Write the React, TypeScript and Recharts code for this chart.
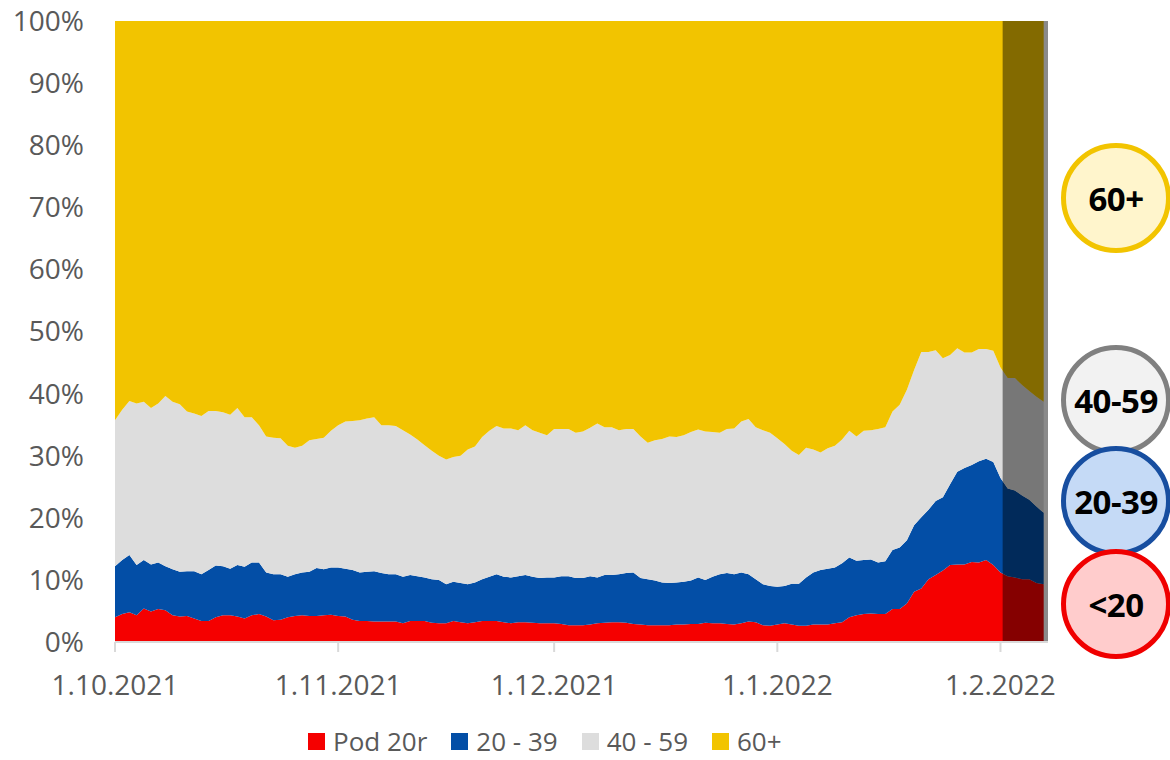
import { AreaChart, Area, XAxis, YAxis, ReferenceArea } from 'recharts';

// daily shares (%) from 1.10.2021 to 7.2.2022
const pod20 = [
  4.0, 4.5, 4.8, 4.3, 5.4, 4.9, 5.3, 5.1, 4.3, 4.1, 4.2, 3.8, 3.4, 3.4, 4.0, 4.3, 4.3, 4.1, 3.8, 4.3,
  4.5, 4.1, 3.5, 3.6, 4.0, 4.2, 4.3, 4.2, 4.2, 4.3, 4.4, 4.2, 4.1, 3.6, 3.4, 3.4, 3.3, 3.3, 3.3, 3.3,
  3.0, 3.4, 3.4, 3.4, 3.1, 3.0, 3.0, 3.4, 3.2, 3.0, 3.2, 3.4, 3.4, 3.4, 3.2, 3.0, 3.2, 3.2, 3.1, 3.0,
  3.0, 3.0, 2.9, 2.7, 2.7, 2.7, 2.8, 3.0, 3.1, 3.2, 3.2, 3.1, 2.9, 2.8, 2.7, 2.7, 2.7, 2.7, 2.8, 2.8,
  2.9, 2.9, 3.1, 3.0, 3.0, 2.9, 2.8, 3.0, 3.3, 3.2, 2.7, 2.6, 2.8, 3.0, 2.8, 2.6, 2.6, 2.8, 2.8, 2.8,
  3.0, 3.2, 4.0, 4.3, 4.5, 4.6, 4.5, 4.5, 5.3, 5.3, 6.2, 8.1, 8.6, 10.1, 10.8, 11.5, 12.4, 12.5, 12.5, 12.9,
  12.8, 13.2, 12.4, 11.2, 10.6, 10.4, 10.1, 10.1, 9.5, 9.3,
];
const age2039 = [
  8.2, 8.7, 9.2, 8.1, 7.8, 7.6, 7.5, 7.1, 7.4, 7.2, 7.2, 7.6, 7.5, 8.2, 8.3, 7.9, 7.5, 8.3, 8.3, 8.5,
  8.3, 7.1, 7.4, 7.3, 6.5, 6.7, 6.9, 7.1, 7.7, 7.4, 7.6, 7.8, 7.7, 8.0, 7.8, 7.9, 8.1, 7.8, 7.6, 7.6,
  7.5, 7.4, 7.2, 7.0, 7.0, 7.0, 6.3, 6.3, 6.3, 6.3, 6.4, 6.7, 7.1, 7.5, 7.3, 7.4, 7.4, 7.6, 7.4, 7.3,
  7.4, 7.4, 7.7, 7.9, 7.6, 7.6, 7.8, 7.4, 7.7, 7.6, 7.7, 8.0, 8.3, 7.5, 7.4, 7.2, 6.9, 6.8, 6.8, 6.9,
  7.0, 7.5, 6.9, 7.5, 7.9, 8.2, 8.1, 8.2, 7.6, 6.9, 6.6, 6.4, 6.1, 6.0, 6.6, 6.8, 7.8, 8.4, 8.8, 9.0,
  9.0, 9.5, 9.6, 8.8, 8.7, 8.7, 8.3, 8.5, 9.5, 9.9, 10.2, 10.7, 11.5, 11.2, 11.9, 11.8, 13.0, 14.9, 15.5, 15.6,
  16.3, 16.3, 16.6, 15.2, 14.1, 14.0, 13.5, 12.8, 12.3, 11.5,
];
const age4059 = [
  23.5, 24.2, 24.8, 26.0, 25.5, 25.2, 25.6, 27.4, 27.0, 27.0, 25.7, 25.4, 25.5, 25.6, 24.9, 24.8, 24.8, 25.3, 24.1, 23.4,
  22.1, 21.9, 22.0, 21.9, 21.1, 20.4, 20.4, 21.2, 20.8, 21.2, 22.0, 22.9, 23.7, 24.0, 24.5, 24.7, 24.8, 23.8, 24.0, 23.9,
  23.6, 22.6, 22.0, 21.3, 20.7, 20.0, 20.1, 20.1, 20.5, 21.7, 21.9, 22.9, 23.5, 23.9, 23.9, 24.0, 23.5, 24.1, 23.6, 23.4,
  22.9, 23.9, 23.7, 23.7, 23.4, 23.6, 23.9, 24.8, 23.8, 23.8, 23.2, 23.2, 23.1, 22.8, 22.0, 22.6, 23.1, 23.6, 23.4, 23.6,
  23.9, 23.8, 23.9, 23.3, 22.8, 23.2, 23.5, 24.3, 25.0, 24.5, 24.8, 24.7, 23.9, 22.9, 21.4, 20.7, 20.9, 19.8, 18.9, 19.4,
  19.6, 19.9, 20.4, 20.0, 20.8, 20.8, 21.5, 21.6, 22.3, 23.0, 24.2, 25.0, 26.6, 25.4, 24.3, 22.4, 20.8, 19.9, 18.6, 18.1,
  18.1, 17.7, 17.9, 17.8, 17.8, 18.1, 17.8, 17.5, 17.7, 17.9,
];
const age60 = [
  64.3, 62.6, 61.2, 61.6, 61.3, 62.3, 61.6, 60.4, 61.3, 61.7, 62.9, 63.2, 63.6, 62.8, 62.8, 63.0, 63.4, 62.3, 63.8, 63.8,
  65.1, 66.9, 67.1, 67.2, 68.4, 68.7, 68.4, 67.5, 67.3, 67.1, 66.0, 65.1, 64.5, 64.4, 64.3, 64.0, 63.8, 65.1, 65.1, 65.2,
  65.9, 66.6, 67.4, 68.3, 69.2, 70.0, 70.6, 70.2, 70.0, 69.0, 68.5, 67.0, 66.0, 65.2, 65.6, 65.6, 65.9, 65.1, 65.9, 66.3,
  66.7, 65.7, 65.7, 65.7, 66.3, 66.1, 65.5, 64.8, 65.4, 65.4, 65.9, 65.7, 65.7, 66.9, 67.9, 67.5, 67.3, 66.9, 67.0, 66.7,
  66.2, 65.8, 66.1, 66.2, 66.3, 65.7, 65.6, 64.5, 64.1, 65.4, 65.9, 66.3, 67.2, 68.1, 69.2, 69.9, 68.7, 69.0, 69.5, 68.8,
  68.4, 67.4, 66.0, 66.9, 66.0, 65.9, 65.7, 65.4, 62.9, 61.8, 59.4, 56.2, 53.3, 53.3, 53.0, 54.3, 53.8, 52.7, 53.4, 53.4,
  52.8, 52.8, 53.1, 55.8, 57.5, 57.5, 58.6, 59.6, 60.5, 61.3,
];

const xTickDays = [0, 31, 61, 92, 123];
const xTickLabels = ['1.10.2021', '1.11.2021', '1.12.2021', '1.1.2022', '1.2.2022'];
const yTicks = [0, 10, 20, 30, 40, 50, 60, 70, 80, 90, 100];

const seriesNames = ['Pod 20r', '20 - 39', '40 - 59', '60+'];
const seriesColors = ['#f50000', '#034ea6', '#dddddd', '#f2c400'];

// days after 1.2.2022 are shaded (incomplete data)
const shadeFrom = 123.3;
const shadeTo = 129.6;

const data = pod20.map((v, i) => ({
  day: i,
  pod20: v,
  a2039: age2039[i],
  a4059: age4059[i],
  a60: age60[i],
}));

const keys = ['pod20', 'a2039', 'a4059', 'a60'];

const badges = [
  { label: '60+', top: 143, fill: '#fff5cc', stroke: '#f2c400' },
  { label: '40-59', top: 345, fill: '#f2f2f2', stroke: '#808080' },
  { label: '20-39', top: 446, fill: '#c5daf6', stroke: '#174ea0' },
  { label: '<20', top: 549, fill: '#ffcccc', stroke: '#f00000' },
];

const font = '"Open Sans", sans-serif';

export default function App() {
  return (
    <div style={{ position: 'absolute', left: 0, top: 0, width: 1170, height: 760, fontFamily: font, overflow: 'hidden' }}>
      <AreaChart
        width={1170}
        height={760}
        data={data}
        margin={{ top: 21, right: 122, bottom: 60, left: 0 }}
      >
        <XAxis
          dataKey="day"
          type="number"
          domain={[0, shadeTo]}
          ticks={xTickDays}
          tickFormatter={(d) => xTickLabels[xTickDays.indexOf(d)]}
          height={58}
          tickSize={10}
          tickMargin={23}
          axisLine={{ stroke: '#d9d9d9', strokeWidth: 2 }}
          tickLine={{ stroke: '#d9d9d9', strokeWidth: 2 }}
          tick={{ fill: '#595959', fontSize: 28, fontFamily: font }}
          interval={0}
        />
        <YAxis
          domain={[0, 100]}
          ticks={yTicks}
          width={115}
          tickFormatter={(v) => `${v}%`}
          axisLine={false}
          tickLine={false}
          tickMargin={25}
          tick={{ fill: '#595959', fontSize: 28, fontFamily: font }}
          interval={0}
        />
        {keys.map((k, i) => (
          <Area
            key={k}
            type="linear"
            dataKey={k}
            stackId="a"
            stroke="none"
            fill={seriesColors[i]}
            fillOpacity={1}
            isAnimationActive={false}
          />
        ))}
        <ReferenceArea
          x1={shadeFrom}
          x2={shadeTo}
          y1={0}
          y2={100}
          fill="#000000"
          fillOpacity={0.46}
          stroke="none"
          ifOverflow="visible"
        />
      </AreaChart>

      {/* legend */}
      <div
        style={{
          position: 'absolute',
          left: 308,
          top: 723,
          height: 36,
          display: 'flex',
          alignItems: 'center',
          gap: 24,
          fontSize: 26,
          color: '#595959',
          whiteSpace: 'nowrap',
        }}
      >
        {seriesNames.map((name, i) => (
          <div key={name} style={{ display: 'flex', alignItems: 'center', gap: 8 }}>
            <span style={{ width: 17, height: 17, background: seriesColors[i], display: 'inline-block' }} />
            <span>{name}</span>
          </div>
        ))}
      </div>

      {/* age group badges */}
      {badges.map((b) => (
        <div
          key={b.label}
          style={{
            position: 'absolute',
            left: 1061,
            top: b.top,
            width: 100,
            height: 100,
            borderRadius: '50%',
            background: b.fill,
            border: `5px solid ${b.stroke}`,
            display: 'flex',
            alignItems: 'center',
            justifyContent: 'center',
            fontWeight: 700,
            fontSize: 33,
            letterSpacing: -0.5,
            color: '#000',
          }}
        >
          {b.label}
        </div>
      ))}
    </div>
  );
}
